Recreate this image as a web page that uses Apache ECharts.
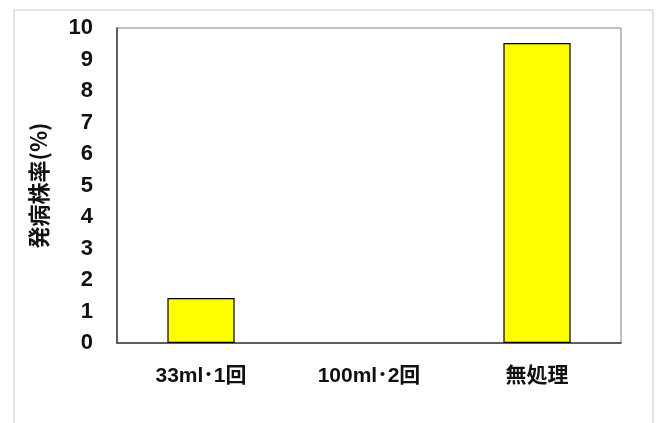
<!DOCTYPE html>
<html><head><meta charset="utf-8">
<script src="https://cdn.jsdelivr.net/npm/echarts@6/dist/echarts.min.js"></script>
<style>html,body{margin:0;padding:0;background:#fff}#c{width:659px;height:423px}</style>
</head><body><div id="c"></div>
<script>
const categories = ['33ml･1回', '100ml･2回', '無処理'];
const values = [1.43, 0, 9.52];
const yTicks = [0,1,2,3,4,5,6,7,8,9,10];
const yTitle = '発病株率(%)';

const chart = echarts.init(document.getElementById('c'), null, {renderer:'canvas'});
const font = '"Liberation Sans", Arial, "Noto Sans CJK JP", sans-serif';
chart.setOption({
  backgroundColor: '#fff',
  animation: false,
  graphic: [
    {type:'rect', shape:{x:14,y:10,width:639,height:420}, style:{fill:'none', stroke:'#c8c8c8', lineWidth:1}, z:-1}
  ],
  grid: {left:117, top:28, right:38, bottom:80, show:true, borderColor:'#808080', borderWidth:1},
  xAxis: {
    type:'category', data: categories,
    axisLine:{lineStyle:{color:'#404040', width:1.5}},
    axisTick:{show:false},
    axisLabel:{color:'#111', fontSize:21, fontFamily:font, margin:23, fontWeight:'bold'}
  },
  yAxis: {
    type:'value', min:0, max:10, interval:1,
    name: yTitle, nameLocation:'middle', nameGap:67, nameRotate:90,
    nameTextStyle:{color:'#111', fontSize:22, fontWeight:'bold', fontFamily:'"Noto Sans CJK JP", sans-serif'},
    axisLine:{show:true, lineStyle:{color:'#404040', width:1.5}},
    axisTick:{show:false},
    splitLine:{show:false},
    axisLabel:{color:'#111', fontSize:22, fontFamily:font, margin:24, fontWeight:'bold',
      formatter: v => yTicks.includes(v) ? String(v) : ''}
  },
  series: [{
    type:'bar', barWidth:'40%',
    data: values.map(v => v === 0 ? {value:v, itemStyle:{borderWidth:0}} : v),
    itemStyle:{color:'#ffff00', borderColor:'#000', borderWidth:1.2}
  }]
});
</script></body></html>
